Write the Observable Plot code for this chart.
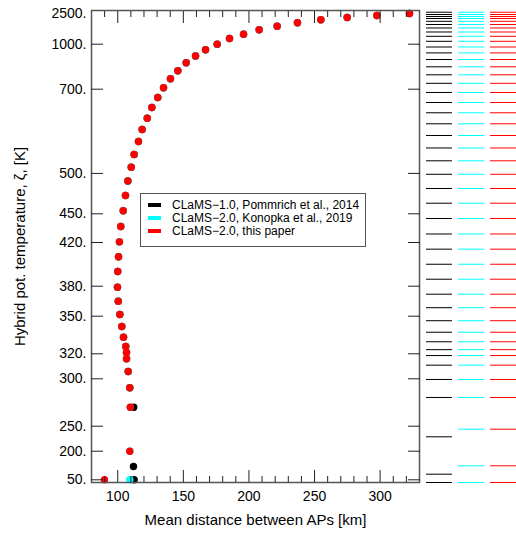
<!DOCTYPE html>
<html>
<head>
<meta charset="utf-8">
<script src="https://cdn.jsdelivr.net/npm/d3@7"></script>
<script src="https://cdn.jsdelivr.net/npm/@observablehq/plot@0.6"></script>
<style>
  html, body { margin: 0; padding: 0; background: #fff; }
  body { font-family: "Liberation Sans", Arial, Helvetica, sans-serif; }
  #wrap { position: relative; width: 516px; height: 535px; overflow: hidden; background: #fff; }
  #main, #levels { position: absolute; top: 0; }
  #main { left: 0; }
  #levels { left: 419px; }
  #legend { position: absolute; left: 140px; top: 193px; width: 224px; height: 52px;
            border: 1.5px solid #555; background: #fff; font-size: 12px; color: #000; }
  .row { position: absolute; left: 0; height: 13px; line-height: 13px; white-space: nowrap; }
  .sw { position: absolute; left: 7px; top: 4.5px; width: 13px; height: 4px; }
  .lb { position: absolute; left: 31px; top: 0; }
</style>
</head>
<body>
<div id="wrap">
  <div id="main"></div>
  <div id="levels"></div>
  <div id="legend"></div>
</div>
<script>
// ---------------- data ----------------
const models = ["CLaMS\u22121.0, Pommrich et al., 2014", "CLaMS\u22122.0, Konopka et al., 2019", "CLaMS\u22122.0, this paper"];
const modelColors = ["#000000", "#00ffff", "#ff0000"];

// layers common to all configurations: hybrid potential temperature [K] and mean AP distance [km]
const thetaUpper = [2525, 2425, 2326, 2212, 2063, 1894, 1715, 1497, 1283, 1000,
                    962.7, 921.3, 876, 822.7, 769.3, 709.3, 680.3, 656.5, 631.1, 604.3,
                    575.8, 544.9, 514.8, 490.6, 472.6, 453.7, 436.7, 420.7, 406.9, 393.5,
                    379, 365, 351.7, 341.8, 333.2, 325.8, 321, 316, 305.8, 290.5];
const distUpper = [322.4, 297.5, 274.9, 254.8, 237, 221.5, 207.8, 195.9, 185.2, 175.8,
                   166.9, 159.3, 152.2, 145.8, 140.2, 134.9, 130.5, 126, 122.5, 118.6,
                   115.8, 112.5, 110.3, 107.7, 105.9, 104.2, 102.3, 101.3, 100.6, 100,
                   99.8, 100.4, 101.6, 103.1, 104.4, 106.1, 106.7, 106.7, 108, 109.2];
// lowest layers per configuration
const thetaLowerC1 = [270, 120, 50];
const distLowerC1  = [112.2, 112.0, 112.5];
const thetaLowerK19 = [270, 200, 50];
const distLowerK19  = [109.5, 109.2, 109.2];
const thetaLowerNew = [270, 200, 50];
const distLowerNew  = [109.5, 109.2, 89.9];

// level boundaries [K]
const boundsUpper = [2589, 2475, 2376, 2276, 2137, 1978, 1805, 1606, 1392, 1144,
                     981.3, 942, 898, 849.3, 796, 739.3, 692.2, 668.4, 644, 617.8,
                     590, 560.4, 529.9, 498.9, 481.3, 463.1, 445.1, 428.9, 413.9, 400.1,
                     386.4, 372, 358.5, 346.4, 337.2, 329.6, 323.3, 318.6, 310.9, 299.3, 280.3];
const boundsLowerC1  = [228.8, 79.4, 36];
const boundsLowerK19 = [244, 123.4, 36];
const boundsLowerNew = [244, 123.4, 36];

// axis ticks
const yTickValues = [50, 200, 250, 300, 320, 350, 380, 420, 450, 500, 700, 1000, 2500];
const yTickMarks  = [50, 200, 250, 300, 320, 350, 380, 420, 450, 500, 700, 1000];
const xMajor = [100, 150, 200, 250, 300];
const xMinor = [90, 110, 120, 130, 140, 160, 170, 180, 190, 210, 220, 230, 240, 260, 270, 280, 290, 310, 320];
const xTitle = "Mean distance between APs [km]";
const yTitle = "Hybrid pot. temperature, \u03B6, [K]";

// ---------------- tables ----------------
const lowerTheta = [thetaLowerC1, thetaLowerK19, thetaLowerNew];
const lowerDist = [distLowerC1, distLowerK19, distLowerNew];
const lowerBounds = [boundsLowerC1, boundsLowerK19, boundsLowerNew];

const points = [];
models.forEach((m, i) => {
  const th = thetaUpper.concat(lowerTheta[i]);
  const ds = distUpper.concat(lowerDist[i]);
  th.forEach((t, j) => points.push({model: m, theta: t, dist: ds[j]}));
});
const levels = [];
models.forEach((m, i) => {
  boundsUpper.concat(lowerBounds[i]).forEach(t => levels.push({model: m, theta: t}));
});

// ---------------- scales ----------------
// the hybrid vertical axis is drawn piecewise-linear between its labelled values
const yScale = {
  type: "linear",
  domain: [36, 50, 200, 250, 300, 320, 350, 380, 420, 450, 500, 700, 1000, 2500, 2674],
  range:  [482, 479.3, 450.7, 425.7, 378.3, 353.3, 315.7, 285.7, 242, 213.3, 172.9, 88.7, 43.7, 13.5, 10]
};
const colorScale = {domain: models, range: modelColors};
const font = {fontFamily: "'Liberation Sans', Arial, Helvetica, sans-serif", fontSize: "14px", color: "#000", background: "transparent", overflow: "visible"};

const main = Plot.plot({
  width: 516, height: 535,
  marginLeft: 91, marginRight: 97, marginTop: 10, marginBottom: 53,
  style: font,
  x: {domain: [80, 330], label: null},
  y: {...yScale, label: null},
  color: colorScale,
  marks: [
    Plot.dot(points, {x: "dist", y: "theta", fill: "model", r: 3.7, stroke: null}),
    Plot.frame({stroke: "#555", strokeWidth: 1.5}),
    // inward ticks
    Plot.axisY(yTickMarks, {anchor: "left", tickSize: 12, dx: 12, fill: "none", stroke: "#222", label: null}),
    Plot.axisY(yTickMarks, {anchor: "right", tickSize: 12, dx: -12, fill: "none", stroke: "#222", label: null}),
    Plot.axisX(xMajor, {anchor: "bottom", tickSize: 12, dy: -12, fill: "none", stroke: "#222", label: null}),
    Plot.axisX(xMinor, {anchor: "bottom", tickSize: 6, dy: -6, fill: "none", stroke: "#222", label: null}),
    Plot.axisX(xMajor, {anchor: "top", tickSize: 12, dy: 12, fill: "none", stroke: "#222", label: null}),
    Plot.axisX(xMinor, {anchor: "top", tickSize: 6, dy: 6, fill: "none", stroke: "#222", label: null}),
    // tick labels
    Plot.axisY(yTickValues, {anchor: "left", tickSize: 0, tickPadding: 5, tickFormat: d => d + ".", fontSize: 14, label: null}),
    Plot.axisX(xMajor, {anchor: "bottom", tickSize: 0, tickPadding: 9, fontSize: 14, label: null}),
    // titles
    Plot.text([xTitle], {text: d => d, frameAnchor: "bottom", dy: 42, fontSize: 15}),
    Plot.text([yTitle], {text: d => d, frameAnchor: "left", textAnchor: "middle", dx: -71, rotate: -90, fontSize: 15})
  ]
});
document.getElementById("main").appendChild(main);

const lev = Plot.plot({
  width: 97, height: 535,
  marginLeft: 0, marginRight: 0, marginTop: 10, marginBottom: 53,
  style: font,
  x: {type: "band", domain: models, range: [6, 99], paddingInner: 0.18, paddingOuter: 0, axis: null},
  y: {...yScale, axis: null},
  color: colorScale,
  marks: [
    Plot.tickY(levels, {x: "model", y: "theta", stroke: "model", strokeWidth: 1})
  ]
});
document.getElementById("levels").appendChild(lev);

// legend
const legend = document.getElementById("legend");
models.forEach((m, i) => {
  const row = document.createElement("div");
  row.className = "row";
  row.style.top = (4.5 + 13 * i) + "px";
  const sw = document.createElement("div");
  sw.className = "sw";
  sw.style.background = modelColors[i];
  const lb = document.createElement("div");
  lb.className = "lb";
  lb.textContent = m;
  row.appendChild(sw); row.appendChild(lb);
  legend.appendChild(row);
});
</script>
</body>
</html>
